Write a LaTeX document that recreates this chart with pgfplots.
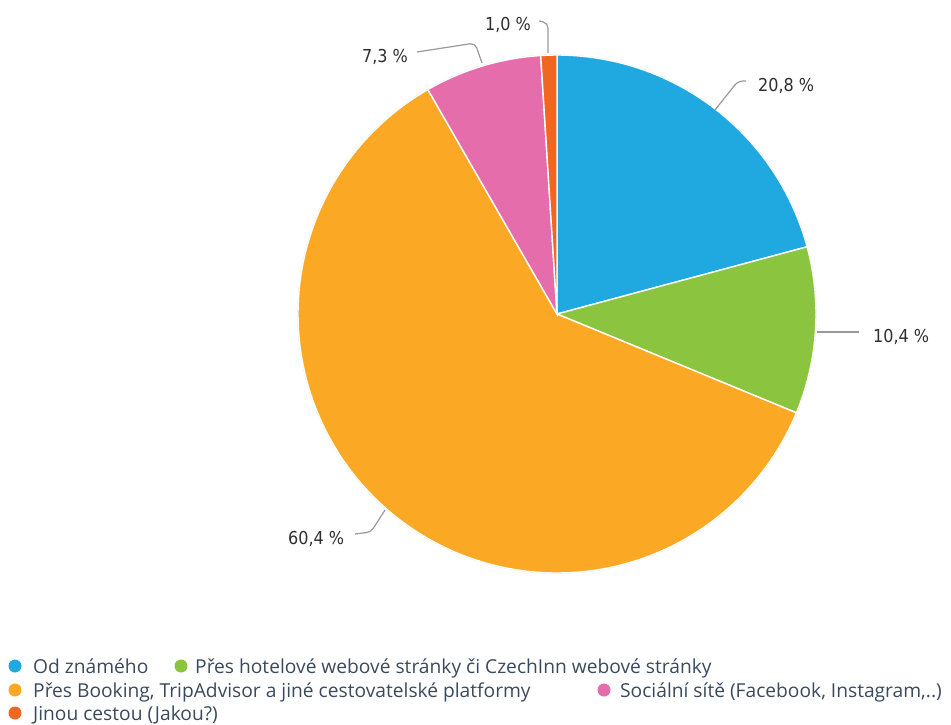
\documentclass[border=0pt]{standalone}
\usepackage{pgfplots}
\pgfplotsset{compat=1.18}
\usepgfplotslibrary{polar}
\usepackage{fontspec}
\setmainfont{Open Sans}
\newfontfamily\labfont{DejaVu Sans Condensed}
\definecolor{cBlue}{HTML}{20A9E1}
\definecolor{cGreen}{HTML}{8BC540}
\definecolor{cOrange}{HTML}{FBA824}
\definecolor{cPink}{HTML}{E56DAB}
\definecolor{cRed}{HTML}{F16722}
\definecolor{legtext}{HTML}{3A4A5C}
\definecolor{labtext}{HTML}{2E2E2E}
\definecolor{leader}{HTML}{999999}
% shares in percent (start at 12 o'clock, clockwise)
\def\vA{20.8}\def\vB{10.4}\def\vC{60.4}\def\vD{7.3}\def\vE{1.0}
\pgfmathsetmacro\total{\vA+\vB+\vC+\vD+\vE}
\pgfmathsetmacro\aA{90}
\pgfmathsetmacro\aB{\aA-\vA/\total*360}
\pgfmathsetmacro\aC{\aB-\vB/\total*360}
\pgfmathsetmacro\aD{\aC-\vC/\total*360}
\pgfmathsetmacro\aE{\aD-\vD/\total*360}
\pgfmathsetmacro\aF{\aE-\vE/\total*360}
\begin{document}
\begin{tikzpicture}
\path[use as bounding box] (0,0) rectangle (951pt,-724pt);
\begin{polaraxis}[at={(557pt,-314pt)}, anchor=center,
  width=518pt, height=518pt, scale only axis, hide axis,
  xmin=0, xmax=360, ymin=0, ymax=1, clip=false]
\addplot[draw=gray!45, line width=1.2pt, domain=0:360, samples=240] {1};
\addplot[fill=cBlue, draw=white, line width=1.4pt, domain=\aB:\aA, samples=80] {1} -- (axis cs:0,0) -- cycle;
\addplot[fill=cGreen, draw=white, line width=1.4pt, domain=\aC:\aB, samples=60] {1} -- (axis cs:0,0) -- cycle;
\addplot[fill=cOrange, draw=white, line width=1.4pt, domain=\aD:\aC, samples=160] {1} -- (axis cs:0,0) -- cycle;
\addplot[fill=cPink, draw=white, line width=1.4pt, domain=\aE:\aD, samples=40] {1} -- (axis cs:0,0) -- cycle;
\addplot[fill=cRed, draw=white, line width=1.4pt, domain=\aF:\aE, samples=10] {1} -- (axis cs:0,0) -- cycle;
\end{polaraxis}
\begin{scope}[x=1pt,y=-1pt]
% leader lines
\begin{scope}[draw=leader, line width=1.2pt, rounded corners=5pt]
\draw (715,110) -- (738,81) -- (746,81);
\draw (817,332) -- (859,332);
\draw (385,510) -- (371,532) -- (355,534);
\draw (417,52) -- (475,43) -- (482,63);
\draw (539,21) -- (548,23) -- (548,53);
\end{scope}
% labels
\begin{scope}[font=\labfont\fontsize{17.8}{20}\selectfont, text=labtext, inner sep=0pt]
\node[anchor=base west] at (758,91) {20,8 \%};
\node[anchor=base west] at (873,342) {10,4 \%};
\node[anchor=base west] at (288,544) {60,4 \%};
\node[anchor=base west] at (362,62) {7,3 \%};
\node[anchor=base west] at (485,30) {1,0 \%};
\end{scope}
% legend
\fill[cBlue] (15,666) circle (6.5pt);
\fill[cGreen] (181,666) circle (6.5pt);
\fill[cOrange] (15,690) circle (6.5pt);
\fill[cPink] (604,690) circle (6.5pt);
\fill[cRed] (15,713) circle (6.5pt);
\begin{scope}[font=\fontsize{19.2}{22}\selectfont, text=legtext, inner sep=0pt]
\node[anchor=base west] at (33,673.5) {Od známého};
\node[anchor=base west] at (195,673.5) {Přes hotelové webové stránky či CzechInn webové stránky};
\node[anchor=base west] at (33,697) {Přes Booking, TripAdvisor a jiné cestovatelské platformy};
\node[anchor=base west] at (620,697) {Sociální sítě (Facebook, Instagram,..)};
\node[anchor=base west] at (33,720.5) {Jinou cestou (Jakou?)};
\end{scope}
\end{scope}
\end{tikzpicture}
\end{document}
